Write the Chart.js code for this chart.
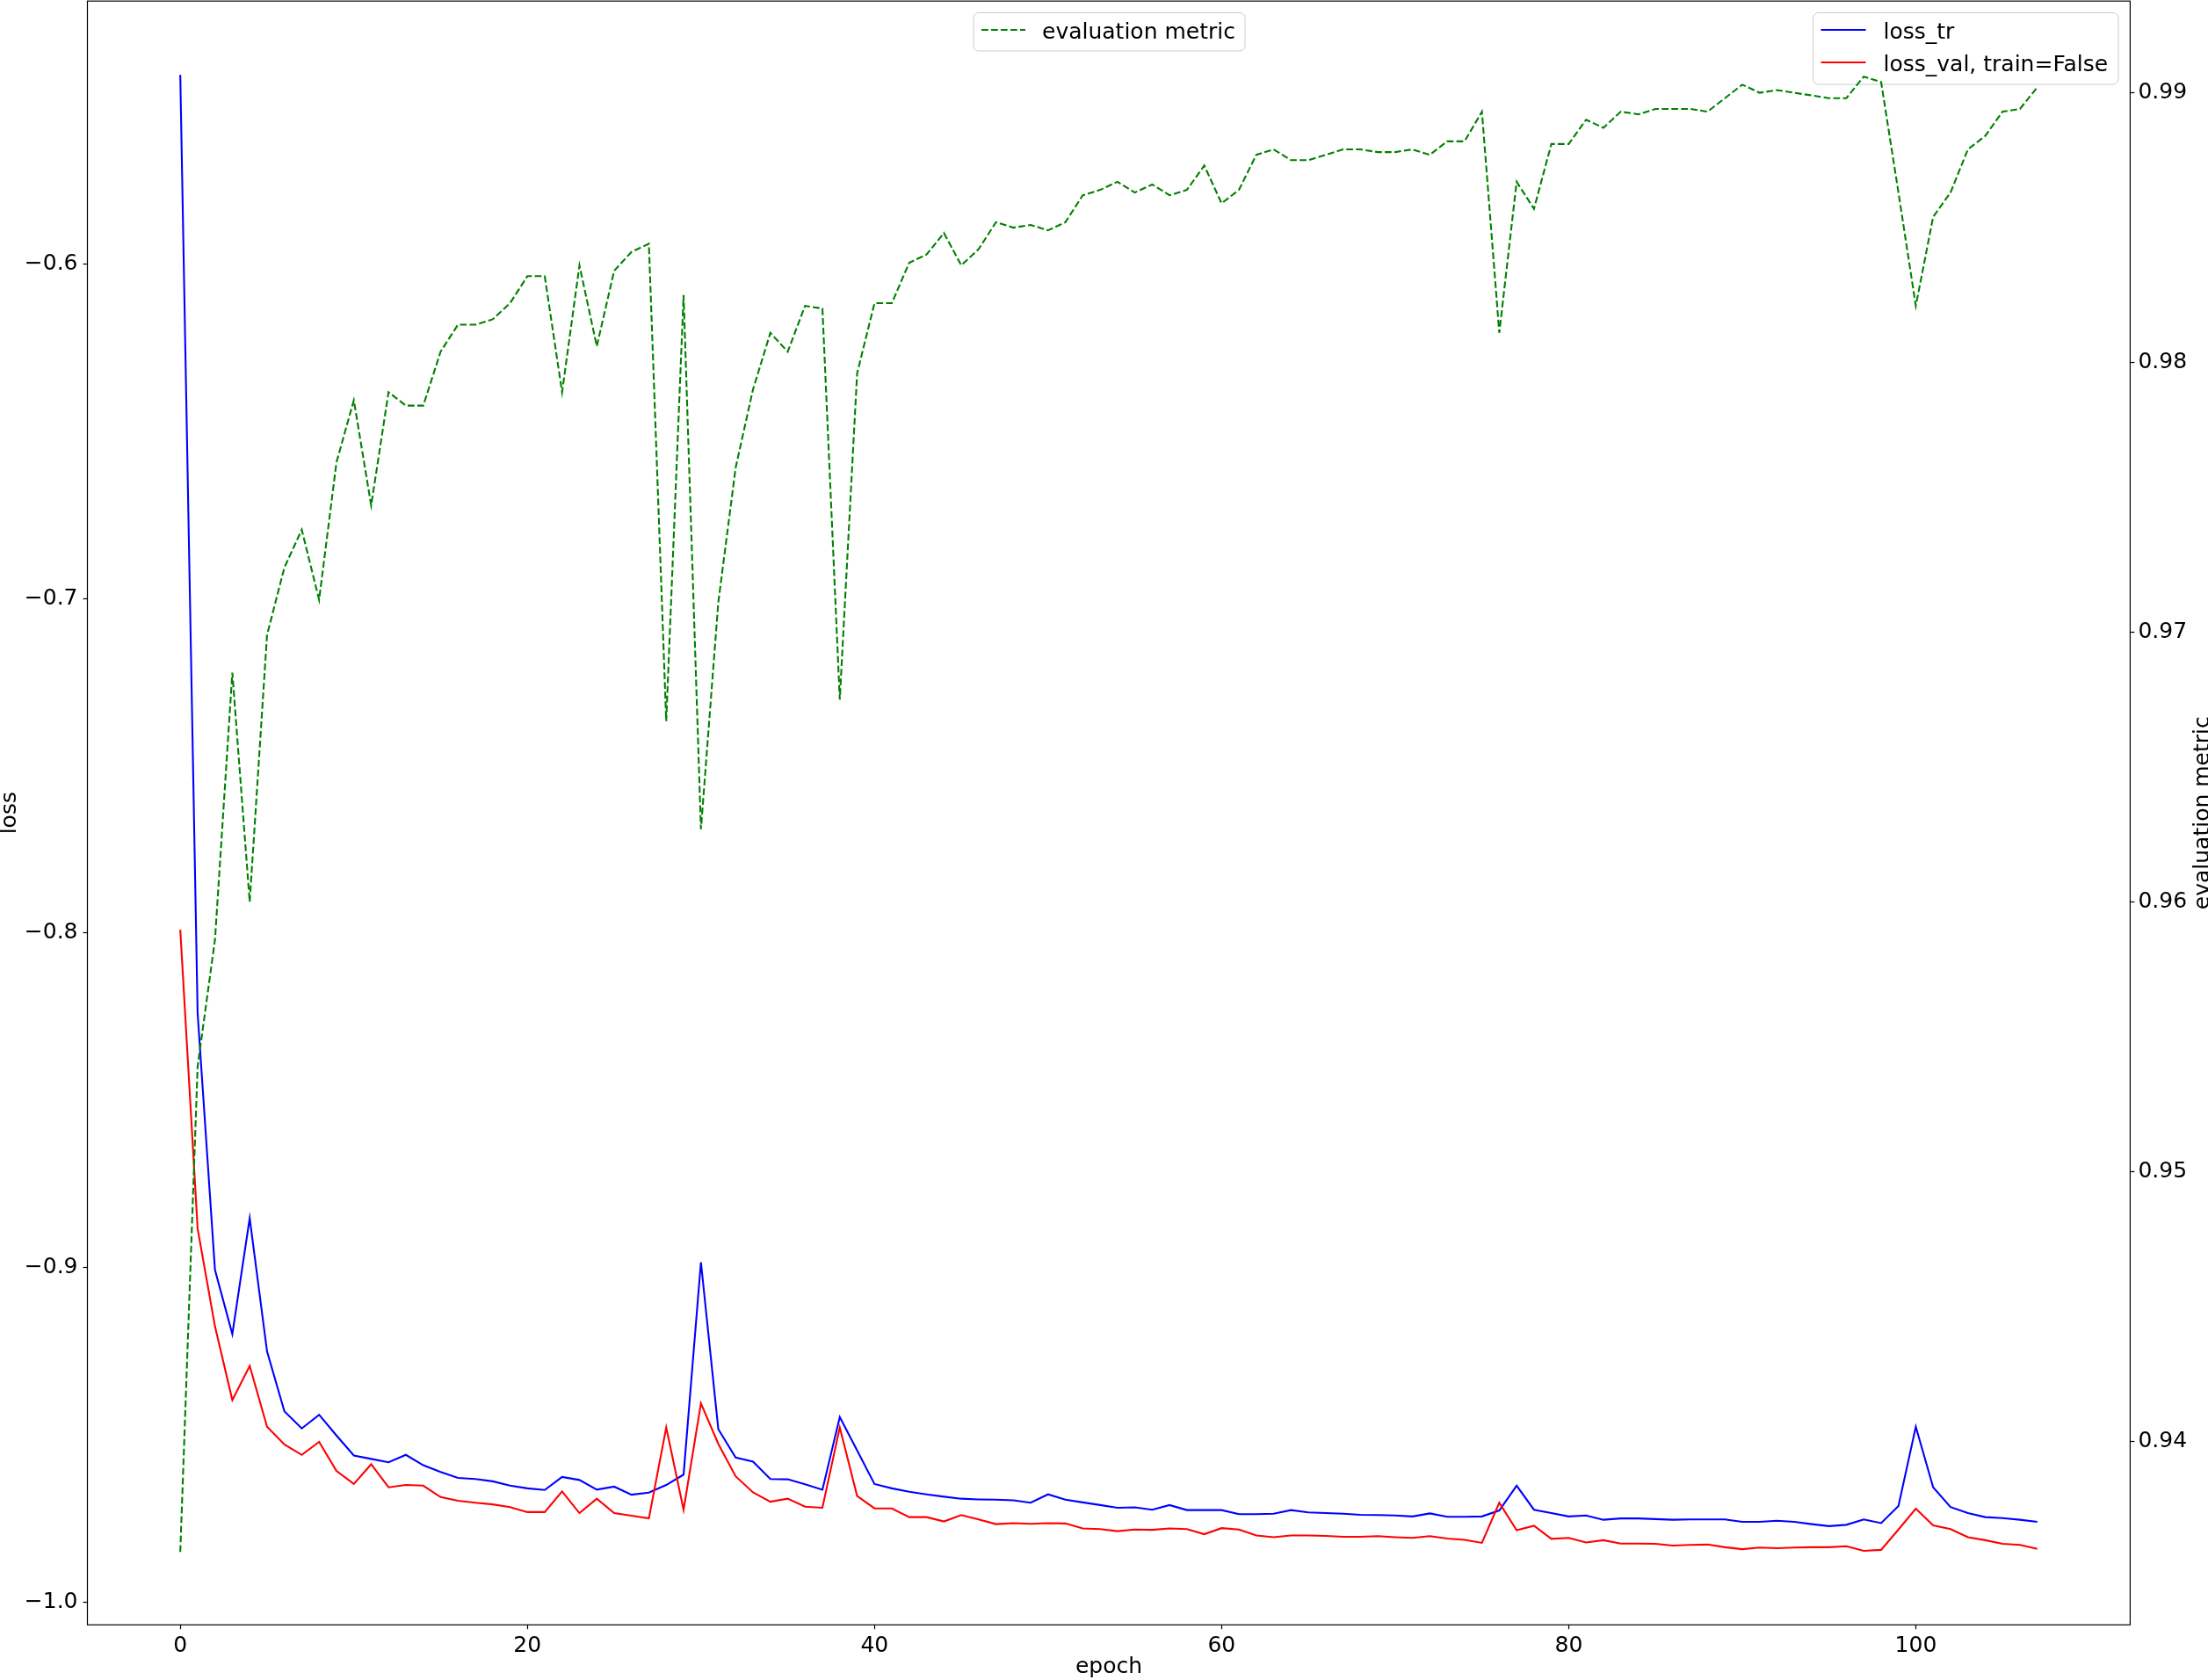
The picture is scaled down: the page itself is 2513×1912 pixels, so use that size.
<!DOCTYPE html>
<html>
<head>
<meta charset="utf-8">
<title>loss / evaluation metric</title>
<script src="https://cdn.jsdelivr.net/npm/chart.js@4.4.1/dist/chart.umd.min.js"></script>
<style>
  html, body { margin: 0; padding: 0; background: #ffffff; }
  #chart { display: block; }
</style>
</head>
<body>
<canvas id="chart" width="2513" height="1912"></canvas>
<script>
// values, one per epoch (0..107)
const lossTr = [
  -0.5435, -0.8240, -0.9007, -0.9199, -0.8852, -0.9251, -0.9430, -0.9481, -0.9440, -0.9502,
  -0.9562, -0.9572, -0.9582, -0.9560, -0.9591, -0.9611, -0.9629, -0.9632, -0.9639, -0.9652,
  -0.9660, -0.9665, -0.9626, -0.9635, -0.9664, -0.9655, -0.9679, -0.9673, -0.9650, -0.9619,
  -0.8984, -0.9483, -0.9568, -0.9580, -0.9632, -0.9633, -0.9648, -0.9664, -0.9447, -0.9547,
  -0.9647, -0.9660, -0.9670, -0.9678, -0.9685, -0.9691, -0.9693, -0.9694, -0.9696, -0.9703,
  -0.9678, -0.9694, -0.9702, -0.9710, -0.9718, -0.9717, -0.9724, -0.9710, -0.9725, -0.9725,
  -0.9725, -0.9737, -0.9737, -0.9736, -0.9725, -0.9732, -0.9734, -0.9736, -0.9739, -0.9740,
  -0.9741, -0.9744, -0.9735, -0.9745, -0.9745, -0.9744, -0.9726, -0.9652, -0.9724, -0.9734,
  -0.9744, -0.9741, -0.9754, -0.9750, -0.9750, -0.9752, -0.9754, -0.9753, -0.9753, -0.9753,
  -0.9760, -0.9760, -0.9757, -0.9760, -0.9767, -0.9773, -0.9769, -0.9753, -0.9764, -0.9713,
  -0.9476, -0.9657, -0.9716, -0.9734, -0.9746, -0.9749, -0.9754, -0.9760
];
const lossVal = [
  -0.7990, -0.8884, -0.9176, -0.9396, -0.9294, -0.9476, -0.9529, -0.9560, -0.9521, -0.9608,
  -0.9647, -0.9588, -0.9657, -0.9650, -0.9652, -0.9686, -0.9697, -0.9703, -0.9708, -0.9716,
  -0.9731, -0.9731, -0.9669, -0.9734, -0.9691, -0.9734, -0.9742, -0.9750, -0.9478, -0.9724,
  -0.9406, -0.9527, -0.9624, -0.9672, -0.9700, -0.9691, -0.9715, -0.9718, -0.9478, -0.9683,
  -0.9720, -0.9720, -0.9746, -0.9746, -0.9759, -0.9740, -0.9753, -0.9767, -0.9764, -0.9766,
  -0.9764, -0.9765, -0.9780, -0.9782, -0.9788, -0.9783, -0.9784, -0.9780, -0.9782, -0.9797,
  -0.9779, -0.9783, -0.9801, -0.9806, -0.9801, -0.9801, -0.9802, -0.9805, -0.9805, -0.9803,
  -0.9806, -0.9808, -0.9803, -0.9810, -0.9814, -0.9823, -0.9703, -0.9785, -0.9772, -0.9811,
  -0.9808, -0.9822, -0.9815, -0.9825, -0.9825, -0.9826, -0.9831, -0.9829, -0.9828, -0.9836,
  -0.9842, -0.9837, -0.9839, -0.9837, -0.9836, -0.9836, -0.9833, -0.9847, -0.9844, -0.9783,
  -0.9721, -0.9771, -0.9782, -0.9806, -0.9815, -0.9826, -0.9829, -0.9841
];
const evalMetric = [
  0.9359, 0.9539, 0.9586, 0.9685, 0.9600, 0.9699, 0.9724, 0.9738, 0.9712, 0.9763,
  0.9786, 0.9747, 0.9789, 0.9784, 0.9784, 0.9804, 0.9814, 0.9814, 0.9816, 0.9822,
  0.9832, 0.9832, 0.9789, 0.9836, 0.9806, 0.9834, 0.9841, 0.9844, 0.9667, 0.9825,
  0.9627, 0.9711, 0.9761, 0.9790, 0.9811, 0.9804, 0.9821, 0.9820, 0.9675, 0.9796,
  0.9822, 0.9822, 0.9837, 0.9840, 0.9848, 0.9836, 0.9842, 0.9852, 0.9850, 0.9851,
  0.9849, 0.9852, 0.9862, 0.9864, 0.9867, 0.9863, 0.9866, 0.9862, 0.9864, 0.9873,
  0.9859, 0.9864, 0.9877, 0.9879, 0.9875, 0.9875, 0.9877, 0.9879, 0.9879, 0.9878,
  0.9878, 0.9879, 0.9877, 0.9882, 0.9882, 0.9893, 0.9811, 0.9867, 0.9857, 0.9881,
  0.9881, 0.9890, 0.9887, 0.9893, 0.9892, 0.9894, 0.9894, 0.9894, 0.9893, 0.9898,
  0.9903, 0.9900, 0.9901, 0.9900, 0.9899, 0.9898, 0.9898, 0.9906, 0.9904, 0.9863,
  0.9821, 0.9854, 0.9863, 0.9879, 0.9884, 0.9893, 0.9894, 0.9902
];
const epochs = lossTr.map((_, i) => i);

const epochTicks = [0, 20, 40, 60, 80, 100];
const lossTicks = [-1.0, -0.9, -0.8, -0.7, -0.6];
const evalTicks = [0.94, 0.95, 0.96, 0.97, 0.98, 0.99];

const FONT = 'DejaVu Sans';
const FS = 25;

function pts(ys) {
    return epochs.map((e, i) => ({ x: e, y: ys[i] }));
}

function fmtLoss(v) {
    return (v < 0 ? '\u2212' : '') + Math.abs(v).toFixed(1);
}

// fixed axis sizes, no extra label padding (keeps plot box where the original has it)
function fixSize(w, h) {
    return s => {
        if (w != null) s.width = w;
        if (h != null) s.height = h;
        s.paddingTop = 0;
        s.paddingBottom = 0;
        s.paddingLeft = 0;
        s.paddingRight = 0;
    };
}

function roundBox(ctx, x, y, w, h, r) {
    ctx.beginPath();
    ctx.moveTo(x + r, y);
    ctx.lineTo(x + w - r, y);
    ctx.arcTo(x + w, y, x + w, y + r, r);
    ctx.lineTo(x + w, y + h - r);
    ctx.arcTo(x + w, y + h, x + w - r, y + h, r);
    ctx.lineTo(x + r, y + h);
    ctx.arcTo(x, y + h, x, y + h - r, r);
    ctx.lineTo(x, y + r);
    ctx.arcTo(x, y, x + r, y, r);
    ctx.closePath();
}

function drawLegend(ctx, box, items) {
    ctx.save();
    roundBox(ctx, box.x, box.y, box.w, box.h, 6);
    ctx.fillStyle = 'rgba(255,255,255,0.8)';
    ctx.fill();
    ctx.strokeStyle = '#cccccc';
    ctx.lineWidth = 1;
    ctx.stroke();
    items.forEach(it => {
        ctx.beginPath();
        ctx.setLineDash(it.dash || []);
        ctx.strokeStyle = it.color;
        ctx.lineWidth = 2.1;
        ctx.moveTo(box.x + box.lineX0, it.y);
        ctx.lineTo(box.x + box.lineX1, it.y);
        ctx.stroke();
        ctx.setLineDash([]);
        ctx.fillStyle = '#000000';
        ctx.font = FS + 'px "' + FONT + '"';
        ctx.textAlign = 'left';
        ctx.textBaseline = 'alphabetic';
        ctx.fillText(it.label, box.x + box.textX, it.y + 9.5);
    });
    ctx.restore();
}

const extras = {
    id: 'extras',
    beforeDatasetsDraw(chart) {
        drawLegend(chart.ctx,
            { x: 2063.5, y: 14.5, w: 347.5, h: 81.5, lineX0: 9, lineX1: 60, textX: 80 },
            [
                { label: 'loss_tr', color: '#0000ff', y: 34 },
                { label: 'loss_val, train=False', color: '#ff0000', y: 71 }
            ]);
    },
    afterDatasetsDraw(chart) {
        const ctx = chart.ctx;
        const a = chart.chartArea;
        ctx.save();
        ctx.strokeStyle = '#000000';
        ctx.lineWidth = 1.2;
        ctx.strokeRect(a.left, a.top, a.right - a.left, a.bottom - a.top);
        ctx.restore();

        drawLegend(ctx,
            { x: 1108, y: 14.5, w: 309, h: 43.5, lineX0: 9, lineX1: 59, textX: 78 },
            [{ label: 'evaluation metric', color: '#008000', dash: [7.7, 3.3], y: 34 }]);

        // right-hand axis title reads bottom to top
        ctx.save();
        ctx.translate(2507, (a.top + a.bottom) / 2);
        ctx.rotate(-Math.PI / 2);
        ctx.fillStyle = '#000000';
        ctx.font = FS + 'px "' + FONT + '"';
        ctx.textAlign = 'center';
        ctx.textBaseline = 'middle';
        ctx.fillText('evaluation metric', 0, 0);
        ctx.restore();
    }
};

const tickGrid = {
    drawOnChartArea: false,
    drawTicks: true,
    tickLength: 5,
    tickColor: '#000000',
    tickWidth: 1.2
};

new Chart(document.getElementById('chart'), {
    type: 'line',
    data: {
        datasets: [
            {
                label: 'evaluation metric',
                data: pts(evalMetric),
                yAxisID: 'y1',
                borderColor: '#008000',
                borderWidth: 2.1,
                borderDash: [7.7, 3.3],
                pointRadius: 0,
                tension: 0,
                fill: false,
                order: 0
            },
            {
                label: 'loss_tr',
                data: pts(lossTr),
                yAxisID: 'y',
                borderColor: '#0000ff',
                borderWidth: 2.1,
                pointRadius: 0,
                tension: 0,
                fill: false,
                order: 2
            },
            {
                label: 'loss_val, train=False',
                data: pts(lossVal),
                yAxisID: 'y',
                borderColor: '#ff0000',
                borderWidth: 2.1,
                pointRadius: 0,
                tension: 0,
                fill: false,
                order: 1
            }
        ]
    },
    options: {
        responsive: false,
        animation: false,
        devicePixelRatio: 1,
        layout: { padding: { top: 1.2, left: 0, right: 0, bottom: 0 } },
        plugins: {
            legend: { display: false },
            tooltip: { enabled: false }
        },
        scales: {
            x: {
                type: 'linear',
                position: 'bottom',
                min: -5.35,
                max: 112.35,
                afterBuildTicks: s => { s.ticks = epochTicks.map(v => ({ value: v })); },
                afterFit: fixSize(null, 62.8),
                grid: tickGrid,
                border: { display: false },
                ticks: {
                    color: '#000000',
                    font: { family: FONT, size: FS },
                    padding: 4,
                    maxRotation: 0,
                    callback: v => String(v)
                },
                title: {
                    display: true,
                    text: 'epoch',
                    color: '#000000',
                    font: { family: FONT, size: FS, lineHeight: 1.2 },
                    padding: { top: 0, bottom: 0 }
                }
            },
            y: {
                type: 'linear',
                position: 'left',
                min: -1.0068,
                max: -0.5214,
                afterBuildTicks: s => { s.ticks = lossTicks.map(v => ({ value: v })); },
                afterFit: fixSize(99.5, null),
                grid: tickGrid,
                border: { display: false },
                ticks: {
                    color: '#000000',
                    font: { family: FONT, size: FS },
                    padding: 6,
                    callback: v => fmtLoss(v)
                },
                title: {
                    display: true,
                    text: 'loss',
                    color: '#000000',
                    font: { family: FONT, size: FS, lineHeight: 0.9 },
                    padding: { top: 0, bottom: 0 }
                }
            },
            y1: {
                type: 'linear',
                position: 'right',
                min: 0.9332,
                max: 0.9934,
                afterBuildTicks: s => { s.ticks = evalTicks.map(v => ({ value: v })); },
                afterFit: fixSize(88.6, null),
                grid: tickGrid,
                border: { display: false },
                ticks: {
                    color: '#000000',
                    font: { family: FONT, size: FS },
                    padding: 4,
                    callback: v => v.toFixed(2)
                }
            }
        }
    },
    plugins: [extras]
});
</script>
</body>
</html>
